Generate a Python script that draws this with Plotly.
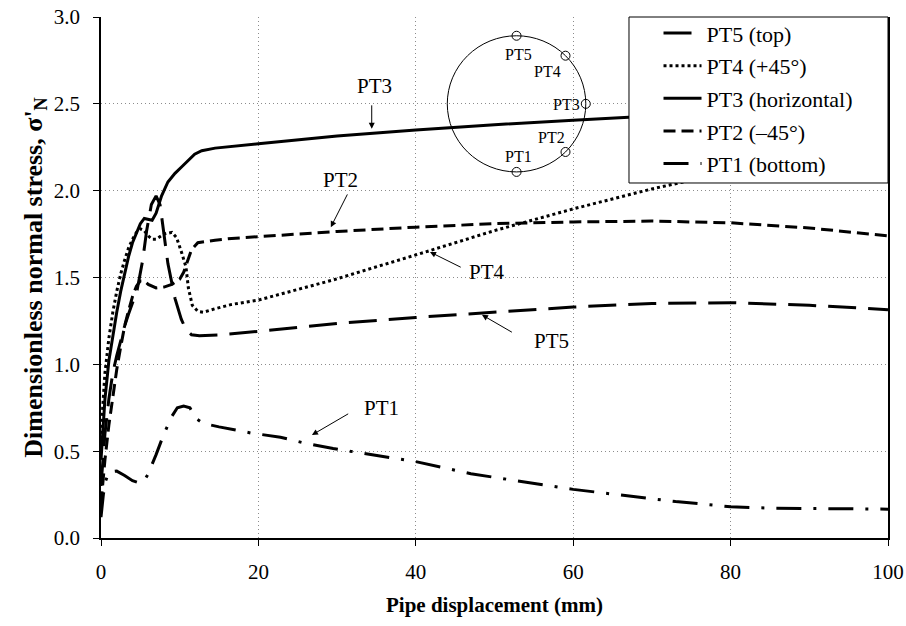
import numpy as np
import plotly.graph_objects as go

# ---------------- data ----------------
disp_pt5 = [0, 0.5, 1, 1.5, 2, 2.5, 3, 3.5, 4, 4.6, 5.3, 5.8, 6.4, 7.0, 7.5, 8.0, 8.5, 9.4, 10.2,
            10.8, 11.5, 12.5, 15, 20, 30, 40, 50, 60, 70, 80, 90, 100]
stress_pt5 = [0.3, 0.6, 0.8, 0.95, 1.05, 1.14, 1.22, 1.29, 1.35, 1.43, 1.6, 1.77, 1.92, 1.97, 1.92,
              1.75, 1.58, 1.38, 1.26, 1.2, 1.17, 1.165, 1.17, 1.19, 1.235, 1.27, 1.30, 1.33, 1.35,
              1.355, 1.34, 1.315]

disp_pt4 = [0, 0.5, 1, 1.5, 2, 2.5, 3, 3.5, 4, 4.5, 5, 5.5, 6, 6.5, 7, 8, 9, 9.6, 10.2, 10.8, 11.1,
            11.6, 12.3, 13, 14.5, 16.6, 20, 29.5, 40, 50, 60, 70, 74, 80, 90, 100]
stress_pt4 = [0.6, 0.95, 1.15, 1.3, 1.42, 1.52, 1.6, 1.67, 1.72, 1.76, 1.78, 1.77, 1.74, 1.72, 1.72,
              1.75, 1.76, 1.73, 1.65, 1.56, 1.44, 1.34, 1.305, 1.30, 1.32, 1.345, 1.37, 1.486, 1.63,
              1.77, 1.895, 2.01, 2.05, 2.1, 2.18, 2.25]

disp_pt3 = [0, 0.5, 1, 1.5, 2, 2.5, 3, 3.5, 4, 4.5, 5, 5.5, 6, 6.5, 7, 7.7, 8.5, 9.4, 10.2, 11.0,
            11.9, 12.8, 14.5, 20, 30, 40, 50, 60, 70, 80, 90, 100]
stress_pt3 = [0.45, 0.8, 1.02, 1.17, 1.3, 1.42, 1.53, 1.62, 1.7, 1.76, 1.81, 1.84, 1.835, 1.83, 1.87,
              1.97, 2.05, 2.10, 2.135, 2.17, 2.21, 2.23, 2.245, 2.27, 2.315, 2.35, 2.38, 2.405, 2.43,
              2.45, 2.47, 2.49]

disp_pt2 = [0, 0.5, 1, 1.5, 2, 2.5, 3, 3.5, 4, 4.5, 5, 5.5, 6, 7, 8, 9, 10, 10.5, 11, 11.5, 12.3,
            14.5, 16.6, 20, 30, 40, 50, 60, 70, 80, 90, 100]
stress_pt2 = [0.2, 0.45, 0.65, 0.82, 0.97, 1.1, 1.22, 1.31, 1.39, 1.45, 1.48, 1.48, 1.46, 1.44, 1.445,
              1.46, 1.49, 1.53, 1.6, 1.66, 1.70, 1.715, 1.725, 1.735, 1.765, 1.79, 1.81, 1.82, 1.825,
              1.815, 1.785, 1.74]

disp_pt1 = [0, 0.3, 0.6, 1, 2, 3, 4, 5, 5.5, 6, 7, 8, 9, 9.7, 10.5, 11.3, 12, 13, 15, 19, 22.8, 26,
            29.5, 33, 40, 47, 60, 73, 80, 85, 100]
stress_pt1 = [0.12, 0.25, 0.33, 0.38, 0.385, 0.36, 0.33, 0.315, 0.33, 0.37, 0.48, 0.6, 0.7, 0.75, 0.76,
              0.75, 0.69, 0.66, 0.64, 0.605, 0.58, 0.545, 0.515, 0.49, 0.44, 0.37, 0.28, 0.21, 0.18,
              0.172, 0.166]

series_names = ["PT5 (top)", "PT4 (+45°)", "PT3 (horizontal)", "PT2 (–45°)", "PT1 (bottom)"]
series_x = [disp_pt5, disp_pt4, disp_pt3, disp_pt2, disp_pt1]
series_y = [stress_pt5, stress_pt4, stress_pt3, stress_pt2, stress_pt1]
series_dash = ["28px,12px", "dot", "solid", "12px,6px", "25px,12px,3px,12px"]

x_ticks = [0, 20, 40, 60, 80, 100]
y_ticks = [0.0, 0.5, 1.0, 1.5, 2.0, 2.5, 3.0]
y_grid = [0.5, 1.0, 1.5, 2.0, 2.5]

FONT = "Liberation Serif"
GRID = dict(showgrid=True, gridcolor="#8c8c8c", griddash="1px,3px", gridwidth=1)

fig = go.Figure()
for name, xs, ys, dash in zip(series_names, series_x, series_y, series_dash):
    fig.add_trace(go.Scatter(x=xs, y=ys, mode="lines", name=name, legendgroup=name,
                             line=dict(color="black", width=3, dash=dash)))

# ---------------- inset pipe cross-section ----------------
cx, cy, rx, ry = 52.8, 2.50, 8.8, 0.392
inset_labels = ["PT5", "PT4", "PT3", "PT2", "PT1"]
inset_angles = [90, 45, 0, -45, -90]
mx = [cx + rx * np.cos(np.radians(a)) for a in inset_angles]
my = [cy + ry * np.sin(np.radians(a)) for a in inset_angles]
fig.add_shape(type="circle", xref="x", yref="y", x0=cx - rx, x1=cx + rx, y0=cy - ry, y1=cy + ry,
              line=dict(color="black", width=1))
# inset markers live on the overlay axis (same range) which carries the horizontal grid
fig.add_trace(go.Scatter(x=mx, y=my, mode="markers", showlegend=False, hoverinfo="skip",
                         yaxis="y2",
                         marker=dict(symbol="circle", size=9, color="white",
                                     line=dict(color="black", width=1))))
label_pos = [(53.0, 2.782), (56.7, 2.684), (59.1, 2.494), (57.3, 2.304), (53.0, 2.195)]
for lab, (lx, ly) in zip(inset_labels, label_pos):
    fig.add_annotation(x=lx, y=ly, text=lab, showarrow=False, xref="x", yref="y",
                       font=dict(family=FONT, size=16, color="black"))

# ---------------- callouts ----------------
callouts = [  # label, label pos, arrow tail, arrow tip
    ("PT3", (34.8, 2.60), (34.4, 2.50), (34.4, 2.356)),
    ("PT2", (30.4, 2.06), (31.4, 1.987), (29.2, 1.79)),
    ("PT4", (49.0, 1.53), (45.9, 1.555), (41.8, 1.647)),
    ("PT5", (57.3, 1.135), (52.4, 1.18), (48.4, 1.285)),
    ("PT1", (35.6, 0.75), (31.6, 0.72), (26.8, 0.593)),
]
for lab, (lx, ly), (tx, ty), (hx, hy) in callouts:
    fig.add_annotation(x=lx, y=ly, text=lab, showarrow=False,
                       font=dict(family=FONT, size=21, color="black"))
    fig.add_annotation(x=hx, y=hy, ax=tx, ay=ty, axref="x", ayref="y", text="",
                       showarrow=True, arrowhead=2, arrowsize=1.2, arrowwidth=1,
                       arrowcolor="black")

# legend box
fig.add_shape(type="rect", xref="paper", yref="paper", x0=0.6709, x1=1.0, y0=0.6814, y1=1.0,
              fillcolor="white", line=dict(color="black", width=1), layer="above")

fig.update_layout(
    width=906, height=626,
    margin=dict(l=101, r=18, t=17, b=88, autoexpand=False),
    paper_bgcolor="white", plot_bgcolor="white",
    font=dict(family=FONT, size=20, color="black"),
    showlegend=True,
    legend=dict(x=0.7084, y=1.009, xanchor="left", yanchor="top",
                bgcolor="rgba(0,0,0,0)", borderwidth=0, itemwidth=38,
                font=dict(family=FONT, size=22, color="black"),
                tracegroupgap=1),
)
fig.update_xaxes(range=[0, 100], tickvals=x_ticks, ticks="outside", ticklen=6,
                 tickcolor="black", showline=True, linecolor="black", linewidth=1.5,
                 zeroline=False, ticklabelstandoff=8, automargin=False,
                 tickfont=dict(family=FONT, size=21),
                 title=dict(text="<b>Pipe displacement (mm)</b>", standoff=14,
                            font=dict(family=FONT, size=21)), **GRID)
fig.update_layout(yaxis=dict(range=[0, 3], tickvals=y_ticks, tickformat=".1f", ticks="outside",
                             ticklen=6, tickcolor="black", showline=True, mirror=True,
                             linecolor="black", linewidth=1.5, showgrid=False,
                             zeroline=False, ticklabelstandoff=9, automargin=False,
                             tickfont=dict(family=FONT, size=21),
                             title=dict(text="<b>Dimensionless normal stress, σ'<sub>N</sub></b>",
                                        standoff=4, font=dict(family=FONT, size=26))),
                  yaxis2=dict(range=[0, 3], overlaying="y", anchor="x", side="left",
                              tickvals=y_grid, showticklabels=False, ticks="",
                              zeroline=False, showline=False, automargin=False, **GRID))

fig.write_html("out.html")
